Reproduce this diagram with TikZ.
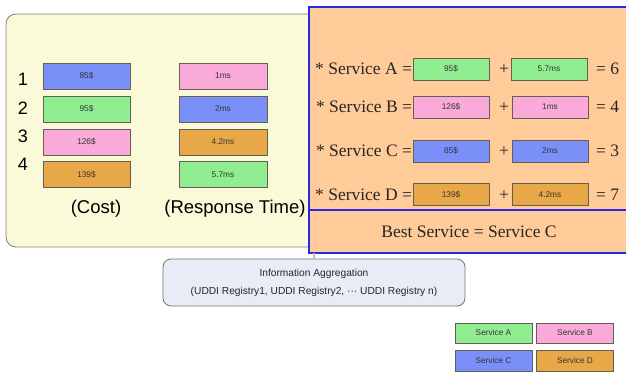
\documentclass[tikz,border=0pt]{standalone}
\usepackage{fontspec}
\setmainfont{Liberation Serif}
\setsansfont{Liberation Sans}
\begin{document}
\begin{tikzpicture}[x=1pt,y=-1pt,
  every node/.style={inner sep=0pt,outer sep=0pt},
  cell/.style={draw=cellline,line width=0.8pt,minimum height=26pt,
    font=\sffamily\fontsize{8.3}{9}\selectfont,text=black!80},
  costcell/.style={cell,minimum width=87pt},
  timecell/.style={cell,minimum width=88pt},
  sumcell/.style={cell,minimum width=76pt,minimum height=22pt},
  legcell/.style={cell,minimum width=77pt,minimum height=20pt},
  rowno/.style={font=\sffamily\fontsize{18}{20}\selectfont},
  caption/.style={font=\sffamily\fontsize{18.5}{20}\selectfont},
  eqtext/.style={font=\fontsize{17.5}{19}\selectfont,text=black!85},
  cA/.style={fill=svcgreen},
  cB/.style={fill=svcpink},
  cC/.style={fill=svcblue},
  cD/.style={fill=svcorange}]
\definecolor{svcgreen}{RGB}{144,238,144}
\definecolor{svcpink}{RGB}{249,170,216}
\definecolor{svcblue}{RGB}{122,144,248}
\definecolor{svcorange}{RGB}{233,168,72}
\definecolor{cellline}{RGB}{100,95,80}
\definecolor{panelyellow}{RGB}{250,250,216}
\definecolor{panelorange}{RGB}{255,204,153}
\definecolor{panelblue}{RGB}{40,40,230}
\definecolor{aggfill}{RGB}{232,236,246}

\useasboundingbox (0,0) rectangle (626,372);

% data panel (left)
\draw[draw=black!50,fill=panelyellow,line width=0.8pt,rounded corners=10pt]
  (6,14) rectangle (330,247);

\node[rowno] (n1) at (23,79) {1};
\node[rowno] (n2) at (23,108) {2};
\node[rowno] (n3) at (23,136) {3};
\node[rowno] (n4) at (23,164) {4};

\node[costcell,cC] (c1) at (86.5,76) {85\$};
\node[costcell,cA] (c2) at (86.5,109) {95\$};
\node[costcell,cB] (c3) at (86.5,142) {126\$};
\node[costcell,cD] (c4) at (86.5,174.5) {139\$};

\node[timecell,cB] (t1) at (223,76) {1ms};
\node[timecell,cC] (t2) at (223,109) {2ms};
\node[timecell,cD] (t3) at (223,142) {4.2ms};
\node[timecell,cA] (t4) at (223,174.5) {5.7ms};

\node[caption] (cost) at (96,209) {(Cost)};
\node[caption] (resp) at (235,209) {(Response Time)};

% ranking panel (right)
\node[draw=panelblue,fill=panelorange,line width=1.2pt,minimum width=318pt,
  minimum height=246pt,anchor=north west] (rank) at (309,7) {};
\draw[draw=panelblue,line width=1.2pt] (rank.west |- 0,210) -- (rank.east |- 0,210);

\foreach \r/\y/\a/\b/\s/\st/\xb in {A/69/95\$/5.7ms/6/cA/549,
                                     B/107/126\$/1ms/4/cB/550,
                                     C/151/85\$/2ms/3/cC/550,
                                     D/194.5/139\$/4.2ms/7/cD/550}{
  \node[eqtext,anchor=east] (l\r) at (412,\y) {* Service \r\ =};
  \node[sumcell,\st] (x\r) at (451,\y) {\a};
  \node[eqtext] (p\r) at (504,\y+1) {+};
  \node[sumcell,\st] (y\r) at (\xb,\y) {\b};
  \node[eqtext,anchor=west] (s\r) at (596,\y) {= \s};
}

\node[eqtext] (best) at (469,232) {Best Service = Service C};

% aggregation source
\node[draw=black!55,fill=aggfill,line width=0.8pt,rounded corners=8pt,
  minimum width=302pt,minimum height=47pt,align=center,
  font=\sffamily\fontsize{10.2}{18}\selectfont,text=black!85] (agg) at (314,282.5)
  {Information Aggregation\\(UDDI Registry1, UDDI Registry2, \textperiodcentered\textperiodcentered\textperiodcentered\ UDDI Registry n)};
\draw[draw=black!25,line width=2pt] (agg.north) -- (agg.north |- rank.south);

% legend
\node[legcell,cA] (la) at (493.5,333) {Service A};
\node[legcell,cB] (lb) at (575,333) {Service B};
\node[legcell,cC,minimum height=21pt] (lc) at (493.5,361) {Service C};
\node[legcell,cD,minimum height=21pt] (ld) at (575,361) {Service D};
\end{tikzpicture}
\end{document}
